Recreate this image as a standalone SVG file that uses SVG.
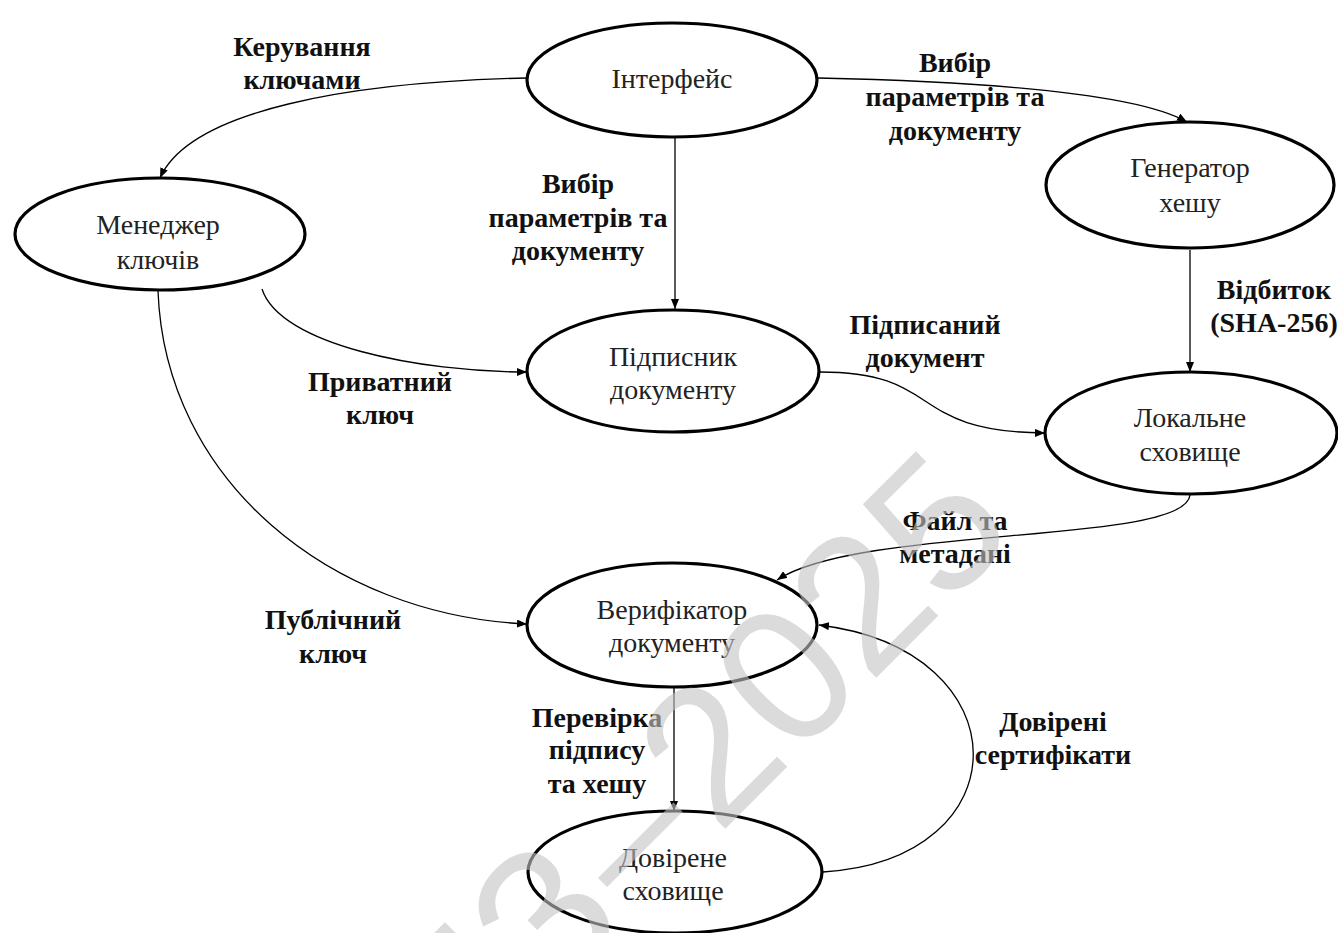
<svg xmlns="http://www.w3.org/2000/svg" width="1338" height="933" viewBox="0 0 1338 933">
<defs>
<marker id="arr" markerUnits="userSpaceOnUse" markerWidth="11" markerHeight="9" refX="10" refY="4" orient="auto">
<path d="M0,0 L10,4 L0,8 z" fill="#000"/>
</marker>
<style>
.node ellipse{fill:#fff;stroke:#000;stroke-width:3.2}
.nt{font-size:28px;fill:#222;text-anchor:middle}
.lbl{font-size:28px;font-weight:bold;fill:#111;text-anchor:middle}
.edges path{fill:none;stroke:#000;stroke-width:1.3;marker-end:url(#arr)}
.wm{font-size:192px;fill:#c4c4c4;opacity:0.6;text-anchor:middle;word-spacing:-45px}
</style>
</defs>
<rect width="1338" height="933" fill="#fff"/>
<g id="connectors" class="edges">
<path d="M527,78 C350,82 190,110 160,178"/>
<path d="M818,78 C1000,82 1140,95 1187,122"/>
<path d="M675,138 L675,309"/>
<path d="M262,289 C280,345 420,372 527,372"/>
<path d="M158,291 C165,480 330,615 527,624"/>
<path d="M820,372 C945,372 905,432 1045,433"/>
<path d="M1190,250 L1190,372"/>
<path d="M1190,495 C1185,545 860,525 777,580"/>
<path d="M674,688 L674,811"/>
<path d="M823,872 C1024,860 1024,650 819,625"/>
</g>
<g id="edge-labels" font-family="Liberation Serif, Times New Roman, Tinos, DejaVu Serif, serif">
<text class="lbl" x="302" y="56">Керування</text>
<text class="lbl" x="302" y="89">ключами</text>
<text class="lbl" x="955" y="72">Вибір</text>
<text class="lbl" x="955" y="106">параметрів та</text>
<text class="lbl" x="955" y="140">документу</text>
<text class="lbl" x="578" y="193">Вибір</text>
<text class="lbl" x="578" y="227">параметрів та</text>
<text class="lbl" x="578" y="260">документу</text>
<text class="lbl" x="1274" y="299">Відбиток</text>
<text class="lbl" x="1274" y="332">(SHA-256)</text>
<text class="lbl" x="925" y="334">Підписаний</text>
<text class="lbl" x="925" y="367">документ</text>
<text class="lbl" x="380" y="391">Приватний</text>
<text class="lbl" x="380" y="424">ключ</text>
<text class="lbl" x="955" y="530">Файл та</text>
<text class="lbl" x="955" y="563">метадані</text>
<text class="lbl" x="333" y="629">Публічний</text>
<text class="lbl" x="333" y="663">ключ</text>
<text class="lbl" x="597" y="727">Перевірка</text>
<text class="lbl" x="597" y="759">підпису</text>
<text class="lbl" x="597" y="793">та хешу</text>
<text class="lbl" x="1053" y="731">Довірені</text>
<text class="lbl" x="1053" y="764">сертифікати</text>
</g>
<g id="nodes" font-family="Liberation Serif, Times New Roman, Tinos, DejaVu Serif, serif">
<g id="n-interface" class="node">
<ellipse cx="672" cy="80" rx="145" ry="57"/>
<text class="nt" x="672" y="88">Інтерфейс</text>
</g>
<g id="n-keymanager" class="node">
<ellipse cx="160" cy="234" rx="145" ry="56"/>
<text class="nt" x="158" y="234">Менеджер</text>
<text class="nt" x="158" y="269">ключів</text>
</g>
<g id="n-hashgen" class="node">
<ellipse cx="1190" cy="185" rx="144" ry="63"/>
<text class="nt" x="1190" y="177">Генератор</text>
<text class="nt" x="1190" y="212">хешу</text>
</g>
<g id="n-signer" class="node">
<ellipse cx="673" cy="371" rx="146" ry="61"/>
<text class="nt" x="673" y="366">Підписник</text>
<text class="nt" x="673" y="399">документу</text>
</g>
<g id="n-localstore" class="node">
<ellipse cx="1191" cy="433" rx="146" ry="61"/>
<text class="nt" x="1190" y="427">Локальне</text>
<text class="nt" x="1190" y="461">сховище</text>
</g>
<g id="n-verifier" class="node">
<ellipse cx="672" cy="625" rx="145" ry="62"/>
<text class="nt" x="672" y="619">Верифікатор</text>
<text class="nt" x="672" y="652">документу</text>
</g>
<g id="n-truststore" class="node">
<ellipse cx="675" cy="872" rx="147" ry="61"/>
<text class="nt" x="673" y="867">Довірене</text>
<text class="nt" x="673" y="900">сховище</text>
</g>
</g>
<g id="watermark" font-family="Liberation Sans, Arial, sans-serif">
<text class="wm" transform="translate(736,818) rotate(-45)">ПЗ – 2025</text>
</g>
</svg>
